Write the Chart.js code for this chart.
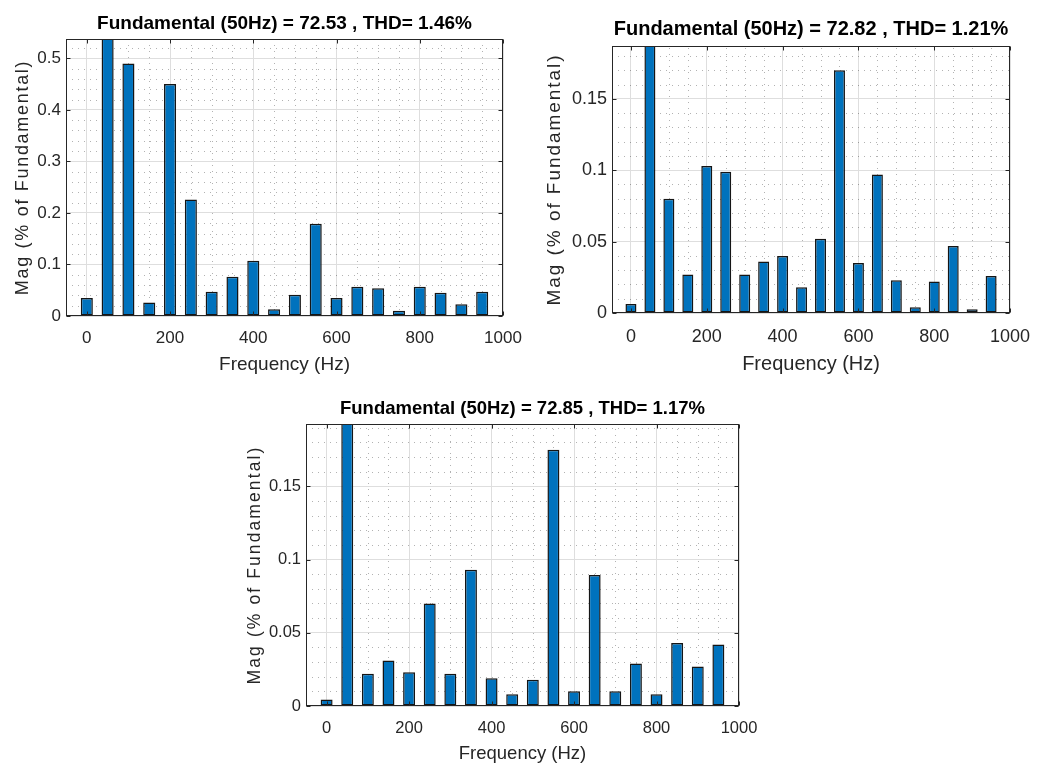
<!DOCTYPE html>
<html>
<head>
<meta charset="utf-8">
<script src="https://cdn.jsdelivr.net/npm/chart.js@4.4.1/dist/chart.umd.min.js"></script>
<style>
  body { margin: 0; background: #fff; width: 1043px; height: 765px; position: relative; overflow: hidden; }
  canvas { position: absolute; }
</style>
</head>
<body>
<canvas id="fft1" width="540" height="380" style="left:0;top:0"></canvas>
<canvas id="fft2" width="523" height="380" style="left:520px;top:0"></canvas>
<canvas id="fft3" width="540" height="380" style="left:240px;top:385px"></canvas>
<script>
// harmonic frequencies (Hz)
const freqs = [0, 50, 100, 150, 200, 250, 300, 350, 400, 450, 500, 550, 600, 650, 700, 750, 800, 850, 900, 950];

// magnitudes in % of fundamental (the 50 Hz bar is the fundamental itself, clipped by the axis)
const mag1 = [0.035, 100, 0.490, 0.026, 0.450, 0.226, 0.047, 0.076, 0.107, 0.013, 0.041, 0.179, 0.035, 0.057, 0.054, 0.010, 0.057, 0.045, 0.023, 0.047];
const mag2 = [0.0063, 100, 0.080, 0.027, 0.103, 0.099, 0.027, 0.036, 0.040, 0.018, 0.052, 0.170, 0.035, 0.097, 0.023, 0.004, 0.022, 0.047, 0.0026, 0.026];
const mag3 = [0.0045, 100, 0.022, 0.031, 0.023, 0.070, 0.022, 0.093, 0.019, 0.008, 0.018, 0.175, 0.010, 0.0895, 0.010, 0.029, 0.008, 0.043, 0.027, 0.042];

const titles = [
  "Fundamental (50Hz) = 72.53 , THD= 1.46%",
  "Fundamental (50Hz) = 72.82 , THD= 1.21%",
  "Fundamental (50Hz) = 72.85 , THD= 1.17%"
];
const xLabel = "Frequency (Hz)";
const yLabel = "Mag (% of Fundamental)";

const xTicks = [0, 200, 400, 600, 800, 1000];
const yTicks1 = [0, 0.1, 0.2, 0.3, 0.4, 0.5];
const yTicks23 = [0, 0.05, 0.1, 0.15];
const yMax = [0.5375, 0.187, 0.1925];
const yMinorStep = [0.02, 0.01, 0.01];
const xMinorStep = 50;

const FONT = "'Liberation Sans', Arial, Helvetica, sans-serif";
const AXIS_COLOR = "#262626";

// matlab style: dotted minor grid, box around the axes, inward ticks, spaced y label
const matlabAxes = {
  id: "matlabAxes",
  beforeDatasetsDraw(chart, args, opts) {
    const { ctx, chartArea: a, scales: { x, y } } = chart;
    ctx.save();
    ctx.strokeStyle = "rgba(0,0,0,0.3)";
    ctx.lineWidth = 1;
    ctx.setLineDash([1, 5]);
    ctx.beginPath();
    for (let v = x.min + xMinorStep; v < x.max; v += xMinorStep) {
      if (xTicks.includes(v)) continue;
      const px = Math.round(x.getPixelForValue(v)) + 0.5;
      ctx.moveTo(px, a.bottom);
      ctx.lineTo(px, a.top);
    }
    const n = Math.floor(y.max / opts.yMinor + 1e-9);
    for (let i = 1; i <= n; i++) {
      const v = i * opts.yMinor;
      if (opts.yTicks.some(t => Math.abs(t - v) < 1e-9)) continue;
      const py = Math.round(y.getPixelForValue(v)) + 0.5;
      ctx.moveTo(a.left, py);
      ctx.lineTo(a.right, py);
    }
    ctx.stroke();
    ctx.restore();
  },
  afterDatasetsDraw(chart, args, opts) {
    const { ctx, chartArea: a, scales: { x, y } } = chart;
    const L = Math.round(a.left) + 0.5, R = Math.round(a.right) - 0.5;
    const T = Math.round(a.top) + 0.5, B = Math.round(a.bottom) - 0.5;
    ctx.save();
    ctx.strokeStyle = AXIS_COLOR;
    ctx.lineWidth = 1;
    ctx.strokeRect(L, T, R - L, B - T);
    ctx.beginPath();
    const tl = 4;
    xTicks.forEach(v => {
      const px = Math.round(x.getPixelForValue(v)) + 0.5;
      ctx.moveTo(px, B); ctx.lineTo(px, B - tl);
      ctx.moveTo(px, T); ctx.lineTo(px, T + tl);
    });
    opts.yTicks.forEach(v => {
      const py = Math.round(y.getPixelForValue(v)) + 0.5;
      ctx.moveTo(L, py); ctx.lineTo(L + tl, py);
      ctx.moveTo(R, py); ctx.lineTo(R - tl, py);
    });
    ctx.stroke();

    // y label, matlab renders rotated text with wide spacing
    ctx.translate(opts.yLabelX, (a.top + a.bottom) / 2);
    ctx.rotate(-Math.PI / 2);
    ctx.fillStyle = AXIS_COLOR;
    ctx.font = opts.yLabelSize + "px " + FONT;
    ctx.letterSpacing = opts.yLabelSpacing + "px";
    ctx.textAlign = "center";
    ctx.textBaseline = "middle";
    ctx.fillText(yLabel, 0, 0);
    ctx.restore();
  }
};

function makeChart(id, values, c) {
  return new Chart(document.getElementById(id), {
    type: "bar",
    data: {
      datasets: [{
        data: freqs.map((f, i) => ({ x: f, y: values[i] })),
        backgroundColor: "#0072BD",
        borderColor: "#151515",
        borderWidth: 1.5,
        borderSkipped: false,
        barPercentage: 0.58,
        categoryPercentage: 1,
        clip: 0
      }]
    },
    options: {
      responsive: false,
      animation: false,
      layout: { padding: { left: 0, right: c.right, top: 0, bottom: 0 } },
      plugins: {
        legend: { display: false },
        tooltip: { enabled: false },
        title: {
          display: true,
          fullSize: false,
          text: c.title,
          color: "#000",
          font: { family: FONT, size: c.titleSize, weight: "bold" },
          padding: { top: c.titleTop, bottom: c.titleBottom }
        },
        matlabAxes: {
          yTicks: c.yTicks, yMinor: c.yMinor, yLabelX: c.yLabelX,
          yLabelSize: c.yLabelSize, yLabelSpacing: c.yLabelSpacing
        }
      },
      scales: {
        x: {
          type: "linear",
          min: -50,
          max: 1000,
          offset: false,
          afterBuildTicks: s => { s.ticks = xTicks.map(v => ({ value: v })); },
          afterFit: s => { s.height = c.xh; },
          grid: { color: "#dedede", drawTicks: false, offset: false },
          border: { display: false },
          ticks: {
            color: AXIS_COLOR,
            font: { family: FONT, size: c.tickSize },
            padding: c.xTickPad,
            maxRotation: 0,
            autoSkip: false,
            callback: v => String(v)
          },
          title: {
            display: true,
            text: xLabel,
            color: AXIS_COLOR,
            font: { family: FONT, size: c.xLabelSize },
            padding: { top: 0, bottom: c.xTitleBottom }
          }
        },
        y: {
          min: 0,
          max: c.ymax,
          afterBuildTicks: s => { s.ticks = c.yTicks.map(v => ({ value: v })); },
          afterFit: s => { s.width = c.yw; },
          grid: { color: "#dedede", drawTicks: false },
          border: { display: false },
          ticks: {
            color: AXIS_COLOR,
            font: { family: FONT, size: c.tickSize },
            padding: 5,
            callback: v => String(+v.toFixed(3))
          },
          title: { display: false }
        }
      }
    },
    plugins: [matlabAxes]
  });
}

makeChart("fft1", mag1, {
  title: titles[0], ymax: yMax[0], yTicks: yTicks1, yMinor: yMinorStep[0],
  right: 37, yw: 66, xh: 64,
  titleSize: 19, titleTop: 11.9, titleBottom: 4.3,
  tickSize: 17, xTickPad: 12,
  xLabelSize: 19, xTitleBottom: 4.1,
  yLabelX: 23.5, yLabelSize: 18, yLabelSpacing: 1.7
});
makeChart("fft2", mag2, {
  title: titles[1], ymax: yMax[1], yTicks: yTicks23, yMinor: yMinorStep[1],
  right: 25, yw: 92, xh: 67,
  titleSize: 20, titleTop: 17.5, titleBottom: 4.5,
  tickSize: 18, xTickPad: 12.9,
  xLabelSize: 20, xTitleBottom: 3.5,
  yLabelX: 35, yLabelSize: 19, yLabelSpacing: 1.95
});
makeChart("fft3", mag3, {
  title: titles[2], ymax: yMax[2], yTicks: yTicks23, yMinor: yMinorStep[2],
  right: 41, yw: 66, xh: 59,
  titleSize: 18.5, titleTop: 12.9, titleBottom: 3.9,
  tickSize: 16.5, xTickPad: 12.1,
  xLabelSize: 18.5, xTitleBottom: 0.2,
  yLabelX: 15, yLabelSize: 17.5, yLabelSpacing: 2.1
});
</script>
</body>
</html>
